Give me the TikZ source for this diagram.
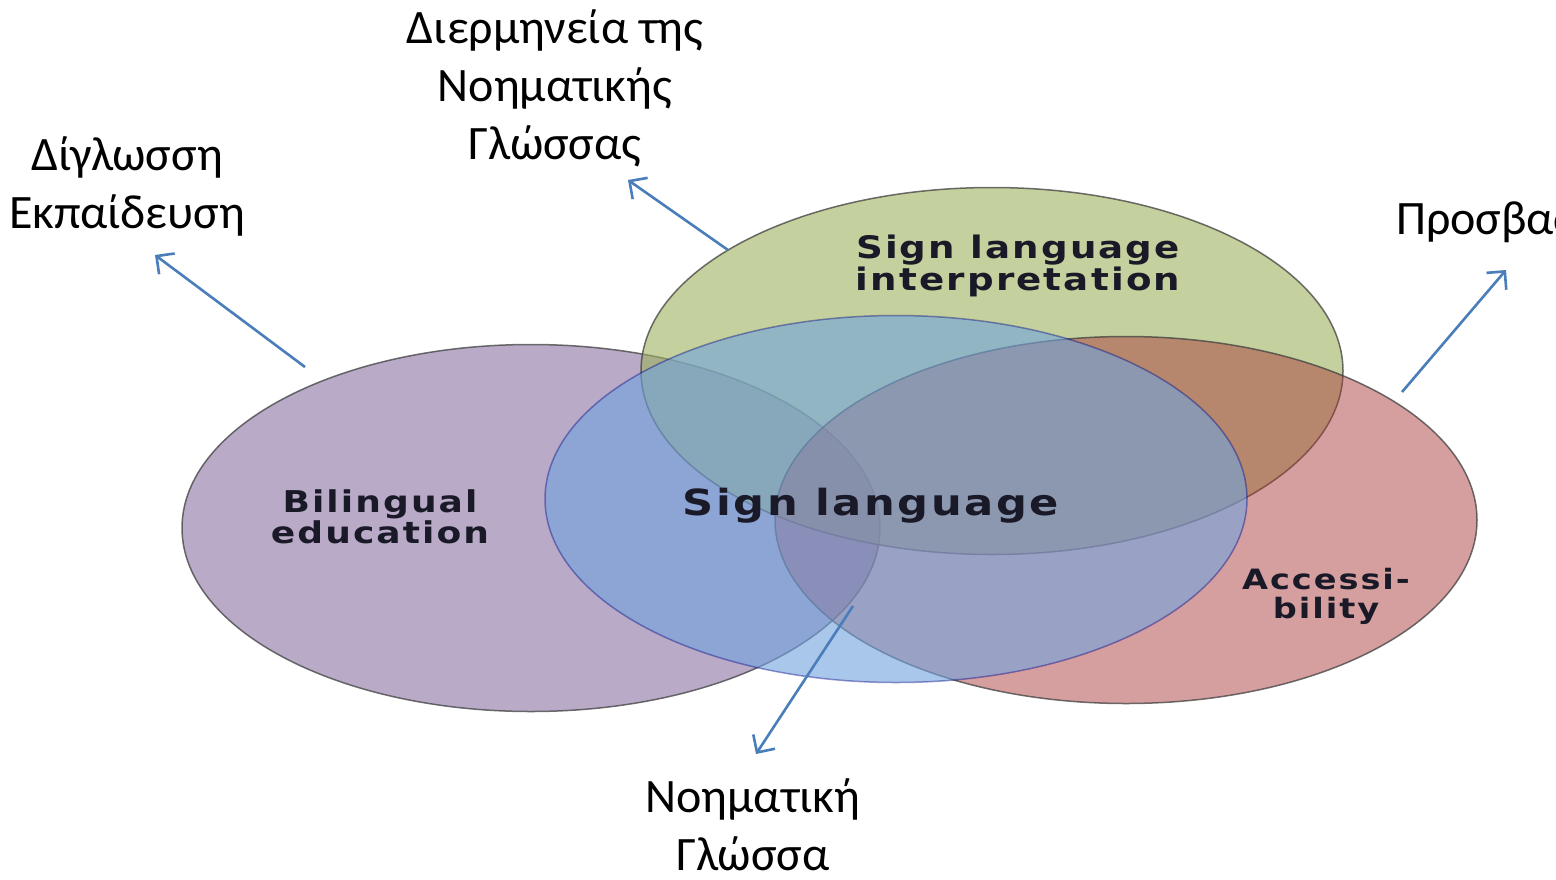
\documentclass[tikz,border=0pt]{standalone}
\usepackage{fontspec}
\setmainfont{Carlito}
\newfontfamily\lblfont[LetterSpace=7,FakeStretch=1.2]{DejaVu Sans Bold}
\usetikzlibrary{arrows.meta,shapes.geometric}
\definecolor{purp}{RGB}{185,170,200}
\definecolor{grn}{RGB}{157,177,93}
\definecolor{rd}{RGB}{168,53,53}
\definecolor{blu}{RGB}{113,163,222}
\definecolor{arrowblue}{RGB}{74,126,187}
\definecolor{lbltext}{RGB}{25,25,40}
\tikzset{
  venn/.style={ellipse, draw=black!75, line width=1.5pt, draw opacity=0.75, inner sep=0pt, minimum width=702pt, minimum height=367pt},
  greek/.style={font=\fontsize{48}{58}\selectfont, align=center, inner sep=0pt},
  inlbl/.style={font=\lblfont\fontsize{30}{31}\selectfont, text=lbltext, align=center, inner sep=0pt},
  arr/.style={draw=arrowblue, line width=2.6pt, -{Straight Barb[length=13pt,width=26pt,line width=2.6pt]}}
}
\begin{document}
\begin{tikzpicture}[x=1pt,y=-1pt]
\useasboundingbox (0,0) rectangle (1556,879);
\fill[white] (0,0) rectangle (1556,879);
% ellipses
\node[venn, fill=purp] (bil) at (531,528) [minimum width=698pt] {};
\node[venn, fill=grn, fill opacity=0.6] (sli) at (992,371) {};
\node[venn, fill=rd, fill opacity=0.47] (acc) at (1126,520) {};
\node[venn, fill=blu, fill opacity=0.6, draw=black!50!blue, draw opacity=0.4] (sl) at (896,499) {};
% inner labels (anchor base = baseline of last line)
\node[inlbl, anchor=base] (bilT) at (380,543) {Bilingual\\education};
\node[inlbl, anchor=base, font=\lblfont\fontsize{31}{32}\selectfont] (sliT) at (1018,290) {Sign language\\interpretation};
\node[inlbl, anchor=base, font=\lblfont\fontsize{28}{29}\selectfont] (accT) at (1326,618) {Accessi-\\bility};
\node[inlbl, anchor=base, font=\lblfont\fontsize{36}{40}\selectfont] (slT) at (871,515) {Sign language};
% greek labels
\node[greek, anchor=base] (g1) at (555,159) {Διερμηνεία της\\Νοηματικής\\Γλώσσας};
\node[greek, anchor=base] (g2) at (127,228) {Δίγλωσση\\Εκπαίδευση};
\node[greek, anchor=base] (g4) at (753,870) {Νοηματική\\Γλώσσα};
\begin{scope}
\clip (0,0) rectangle (1556,879);
\node[greek, anchor=base west] (g3) at (1396,234) {Προσβασιμότητα};
\end{scope}
% arrows
\coordinate (a1s) at (305,367); \coordinate (a1e) at (155,255);
\coordinate (a2s) at (728,250); \coordinate (a2e) at (628,180);
\coordinate (a3s) at (1402,392); \coordinate (a3e) at (1506,270);
\coordinate (a4s) at (853,606); \coordinate (a4e) at (756,754);
\draw[arr] (a1s) -- (a1e);
\draw[arr] (a2s) -- (a2e);
\draw[arr] (a3s) -- (a3e);
\draw[arr] (a4s) -- (a4e);
\end{tikzpicture}
\end{document}
